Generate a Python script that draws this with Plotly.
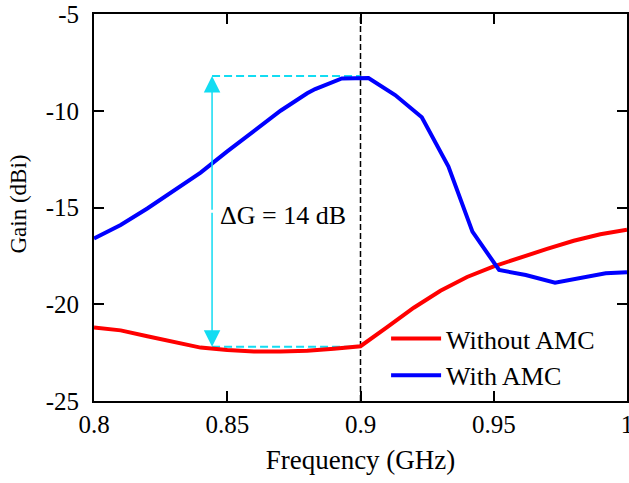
import plotly.graph_objects as go

# Gain vs frequency, antenna with and without the AMC reflector
freq_without = [0.80, 0.81, 0.82, 0.83, 0.84, 0.85, 0.86, 0.87, 0.88, 0.89, 0.90,
                0.91, 0.92, 0.93, 0.94, 0.95, 0.96, 0.97, 0.98, 0.99, 1.00]
gain_without = [-21.2, -21.35, -21.65, -21.97, -22.24, -22.37, -22.44, -22.44, -22.40, -22.30, -22.17,
                -21.18, -20.18, -19.30, -18.59, -18.04, -17.58, -17.14, -16.72, -16.38, -16.15]

freq_with = [0.800, 0.810, 0.820, 0.830, 0.840, 0.850, 0.860, 0.870, 0.880, 0.883, 0.893, 0.903,
             0.913, 0.923, 0.933, 0.942, 0.952, 0.962, 0.973, 0.982, 0.992, 1.000]
gain_with = [-16.6, -15.9, -15.05, -14.15, -13.2, -12.1, -11.05, -10.0, -9.1, -8.88, -8.33, -8.31,
             -9.19, -10.34, -12.89, -16.25, -18.23, -18.49, -18.89, -18.66, -18.40, -18.35]

# Gain improvement marker
f_center = 0.90
f_arrow = 0.8443
gain_peak = -8.2
delta_g = 14
gain_base = gain_peak - delta_g

x_ticks = [0.8, 0.85, 0.9, 0.95, 1.0]
x_ticklabels = ["0.8", "0.85", "0.9", "0.95", "1"]
y_ticks = [-25, -20, -15, -10, -5]
y_ticklabels = ["-25", "-20", "-15", "-10", "-5"]

FONT = "Liberation Serif, Times New Roman, serif"
CYAN = "#12DCF2"

fig = go.Figure()
fig.add_trace(go.Scatter(x=freq_without, y=gain_without, mode="lines", name="Without AMC",
                         line=dict(color="#FF0000", width=4)))
fig.add_trace(go.Scatter(x=freq_with, y=gain_with, mode="lines", name="With AMC",
                         line=dict(color="#0000FF", width=4)))

# vertical reference at the design frequency
fig.add_shape(type="line", x0=f_center, x1=f_center, y0=0, y1=1, xref="x", yref="paper",
              line=dict(color="black", width=1.5, dash="6px,3px"), layer="below")

# dashed guides for the peak and base gain levels
for g in (gain_peak, gain_base):
    fig.add_shape(type="line", x0=f_arrow, x1=f_center, y0=g, y1=g, xref="x", yref="y",
                  line=dict(color=CYAN, width=2, dash="8px,4px"), layer="below")

# double-headed arrow spanning delta G
mid = (gain_peak + gain_base) / 2
for tip in (gain_peak, gain_base):
    fig.add_annotation(x=f_arrow, y=tip, ax=f_arrow, ay=mid, xref="x", yref="y",
                       axref="x", ayref="y", text="", showarrow=True,
                       arrowhead=2, arrowsize=2.2, arrowwidth=1.5, arrowcolor=CYAN)

fig.add_annotation(x=0.8465, y=-15.39, xref="x", yref="y", text=f"ΔG = {delta_g} dB",
                   showarrow=False, xanchor="left", yanchor="middle",
                   font=dict(family=FONT, size=26, color="black"))

# y-axis title placed beside the tick labels
fig.add_annotation(x=0, y=0.5, xref="paper", yref="paper", text="Gain (dBi)",
                   textangle=-90, showarrow=False, xanchor="center", yanchor="middle",
                   xshift=-76, yshift=3,
                   font=dict(family=FONT, size=23, color="black"))

axis_common = dict(showline=True, linecolor="black", linewidth=2, mirror="ticks",
                   ticks="inside", ticklen=10, tickwidth=2, tickcolor="black",
                   showgrid=False, zeroline=False, ticklabeloverflow="allow",
                   automargin=False,
                   tickfont=dict(family=FONT, size=25, color="black"))

fig.update_xaxes(range=[0.8, 1.0], tickvals=x_ticks, ticktext=x_ticklabels,
                 title=dict(text="Frequency (GHz)", font=dict(family=FONT, size=27, color="black"),
                            standoff=13),
                 **axis_common)
fig.update_yaxes(range=[-25, -5], tickvals=y_ticks, ticktext=y_ticklabels,
                 ticklabelstandoff=8,
                 **axis_common)

fig.update_layout(
    width=629, height=483,
    margin=dict(l=94, r=2, t=14, b=82),
    paper_bgcolor="white", plot_bgcolor="white",
    font=dict(family=FONT, color="black"),
    legend=dict(x=0.548, y=0.222, xanchor="left", yanchor="top",
                bgcolor="rgba(0,0,0,0)", borderwidth=0,
                font=dict(family=FONT, size=26, color="black"),
                tracegroupgap=0, itemwidth=50),
    showlegend=True,
)

fig.write_html("out.html")
